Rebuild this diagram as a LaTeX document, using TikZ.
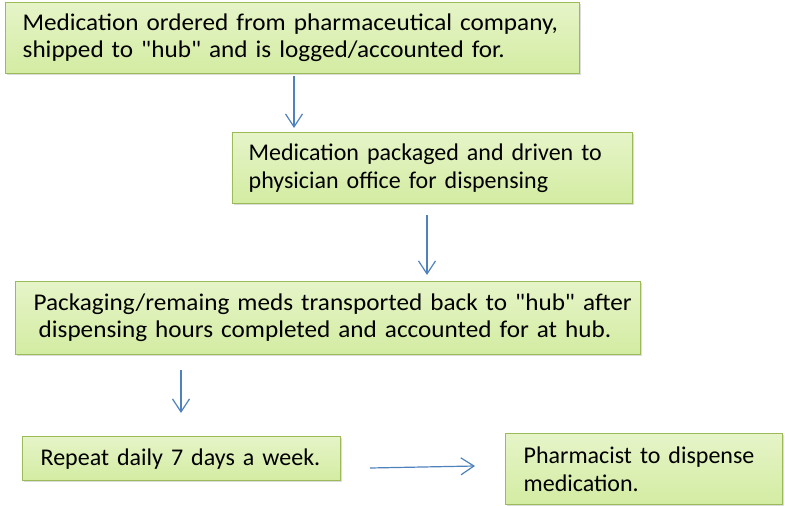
\documentclass[tikz,border=0pt]{standalone}
\usepackage{fontspec}
\setmainfont{Carlito}[Ligatures=TeXOff,WordSpace=0.75]
\usetikzlibrary{arrows.meta,shadows}
\definecolor{boxborder}{HTML}{9BBB59}
\definecolor{boxtop}{HTML}{E6F4C8}
\definecolor{boxbot}{HTML}{D3ECA2}
\definecolor{arrowblue}{HTML}{4F81BD}
\tikzset{
  flowbox/.style={draw=boxborder, line width=1.3pt, top color=boxtop, bottom color=boxbot,
    align=left, anchor=north west, font=\fontsize{24}{28}\selectfont,
    drop shadow={shadow xshift=1pt, shadow yshift=-1.5pt, fill=black!30, opacity=0.45},
    inner ysep=0pt},
  widetext/.style={font=\fontsize{24}{27}\selectfont\addfontfeature{FakeStretch=1.05}},
  flowarrow/.style={draw=arrowblue, line width=1.2pt, -{Straight Barb[length=13pt,width=17pt,line width=1.2pt]}}
}
\begin{document}
\begin{tikzpicture}[x=1pt,y=-1pt]
\useasboundingbox (0,0) rectangle (785,506);
\node[flowbox, widetext, minimum width=574pt, minimum height=71pt, text width=540pt, inner xsep=17pt] (b1) at (5,2)
  {\mbox{Medication ordered from pharmaceutical company,}\\\mbox{shipped to "hub" and is logged/accounted for.}};
\node[flowbox, minimum width=400pt, minimum height=71pt, text width=368pt, inner xsep=16pt] (b2) at (232,132)
  {\mbox{Medication packaged and driven to}\\\mbox{physician office for dispensing}};
\node[flowbox, widetext, minimum width=625pt, minimum height=73pt, text width=589pt, inner xsep=18pt] (b3) at (15,281)
  {\mbox{Packaging/remaing meds transported back to "hub" after}\\\mbox{\hspace*{5pt}dispensing hours completed and accounted for at hub.}};
\node[flowbox, minimum width=318pt, minimum height=44pt, text width=282pt, inner xsep=18pt] (b4) at (22,436)
  {\mbox{Repeat daily 7 days a week.}};
\node[flowbox, minimum width=277pt, minimum height=71pt, text width=241pt, inner xsep=18pt] (b5) at (505,433)
  {\mbox{Pharmacist to dispense}\\\mbox{medication.}};
\coordinate (a1s) at (294,76); \coordinate (a1e) at (294,128);
\coordinate (a2s) at (427,215); \coordinate (a2e) at (427,275);
\coordinate (a3s) at (181,370); \coordinate (a3e) at (181,413);
\coordinate (a4s) at (370,468); \coordinate (a4e) at (475,466);
\draw[flowarrow] (a1s) -- (a1e);
\draw[flowarrow] (a2s) -- (a2e);
\draw[flowarrow] (a3s) -- (a3e);
\draw[flowarrow] (a4s) -- (a4e);
\end{tikzpicture}
\end{document}
